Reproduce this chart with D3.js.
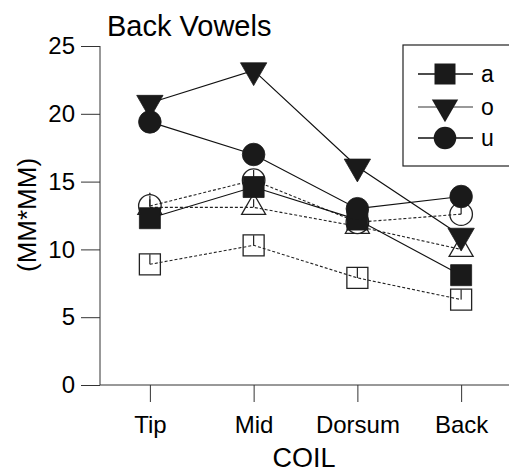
<!DOCTYPE html>
<html>
<head>
<meta charset="utf-8">
<script src="https://cdn.jsdelivr.net/npm/d3@7"></script>
<style>
  html, body { margin: 0; padding: 0; background: #fff; }
  svg { display: block; font-family: Arial, "Liberation Sans", Helvetica, sans-serif; }
</style>
</head>
<body>
<svg id="chart" width="509" height="473"></svg>
<script>
// ---- data ----
const categories = ["Tip", "Mid", "Dorsum", "Back"];
const yTicks = [0, 5, 10, 15, 20, 25];

// filled series (solid lines) – shown in legend
const aFilled = [12.3, 14.6, 12.2, 8.1];
const oFilled = [20.8, 23.2, 16.1, 11.0];
const uFilled = [19.4, 17.0, 13.0, 13.9];

// open series (dashed lines)
const aOpen = [8.9, 10.3, 7.9, 6.3];
const oOpen = [13.1, 13.1, 11.7, 10.0];
const uOpen = [13.2, 15.1, 12.0, 12.6];

// upper error bars of open series
const aOpenErr = [0.75, 0.75, 0.75, 0.75];
const oOpenErr = [0.6, 0.6, 0.6, 0.6];
const uOpenErr = [0.75, 0.75, 0.75, 0.75];

const legendLabels = ["a", "o", "u"];

// ---- setup ----
const svg = d3.select("#chart");
const W = 509, H = 473;
const x = d3.scalePoint().domain(categories).range([98, 513]).padding(0.5);
const y = d3.scaleLinear().domain([0, 25]).range([385, 46]);

const symSquare = d3.symbol().type(d3.symbolSquare).size(441);
const symCircle = d3.symbol().type(d3.symbolCircle).size(400);
const symTriUp = d3.symbol().type(d3.symbolTriangle).size(250);
const symTriDown = d3.symbol().type(d3.symbolTriangle).size(300);

const openSeries = [
  { vals: aOpen, err: aOpenErr, sym: symSquare, rot: 0 },
  { vals: oOpen, err: oOpenErr, sym: symTriUp, rot: 0 },
  { vals: uOpen, err: uOpenErr, sym: symCircle, rot: 0 }
];
const filledSeries = [
  { vals: aFilled, sym: symSquare, rot: 0 },
  { vals: oFilled, sym: symTriDown, rot: 180 },
  { vals: uFilled, sym: symCircle, rot: 0 }
];

const line = d3.line().x((d, i) => x(categories[i])).y(d => y(d));

// ---- axes ----
const axisColor = "#333";
const yAxis = svg.append("g").attr("transform", "translate(100,0)")
  .call(d3.axisLeft(y).tickValues(yTicks).tickSize(19).tickPadding(6).tickFormat(d3.format("d")));
yAxis.select(".domain").attr("d", `M0,${y(25)}V${y(0)}`).attr("stroke", axisColor);
yAxis.selectAll(".tick line").attr("stroke", axisColor);
yAxis.selectAll(".tick text").attr("font-size", 24).attr("fill", "#000").attr("font-family", "Arial, 'Liberation Sans', sans-serif");

const xAxis = svg.append("g").attr("transform", `translate(0,${y(0)})`)
  .call(d3.axisBottom(x).tickSize(17).tickPadding(14));
xAxis.select(".domain").attr("d", `M100,0H${W}`).attr("stroke", axisColor);
xAxis.selectAll(".tick line").attr("stroke", axisColor);
xAxis.selectAll(".tick text").attr("font-size", 24).attr("fill", "#000").attr("font-family", "Arial, 'Liberation Sans', sans-serif");

// ---- titles ----
svg.append("text").attr("x", 107).attr("y", 36).attr("font-size", 29).text("Back Vowels");
svg.append("text").attr("x", 304).attr("y", 467).attr("text-anchor", "middle").attr("font-size", 27).text("COIL");
svg.append("text").attr("transform", "translate(36,215) rotate(-90)").attr("text-anchor", "middle")
  .attr("font-size", 26).text("(MM*MM)");

// ---- open series ----
const gOpen = svg.append("g");
openSeries.forEach(s => {
  gOpen.append("g").selectAll("path").data(s.vals).join("path")
    .attr("d", s.sym)
    .attr("transform", (d, i) => `translate(${x(categories[i])},${y(d)}) rotate(${s.rot})`)
    .attr("fill", "#fff").attr("stroke", "#222").attr("stroke-width", 1.3);
});
openSeries.forEach(s => {
  gOpen.append("path").datum(s.vals).attr("d", line)
    .attr("fill", "none").attr("stroke", "#222").attr("stroke-width", 1.1).attr("stroke-dasharray", "3,2");
  gOpen.append("g").selectAll("line").data(s.vals).join("line")
    .attr("x1", (d, i) => x(categories[i])).attr("x2", (d, i) => x(categories[i]))
    .attr("y1", d => y(d)).attr("y2", (d, i) => y(d + s.err[i]))
    .attr("stroke", "#222").attr("stroke-width", 1.2);
});

// ---- filled series ----
const gFilled = svg.append("g");
filledSeries.forEach(s => {
  gFilled.append("path").datum(s.vals).attr("d", line)
    .attr("fill", "none").attr("stroke", "#111").attr("stroke-width", 1.2);
});
filledSeries.forEach(s => {
  gFilled.append("g").selectAll("path").data(s.vals).join("path")
    .attr("d", s.sym)
    .attr("transform", (d, i) => `translate(${x(categories[i])},${y(d)}) rotate(${s.rot})`)
    .attr("fill", "#1a1a1a").attr("stroke", "#1a1a1a").attr("stroke-width", 0.8);
});

// ---- legend ----
const lg = svg.append("g");
lg.append("rect").attr("x", 403).attr("y", 45).attr("width", 130).attr("height", 121)
  .attr("fill", "#fff").attr("stroke", "#222").attr("stroke-width", 1.2);
const legendYs = [74, 107, 138];
filledSeries.forEach((s, i) => {
  const ly = legendYs[i];
  lg.append("line").attr("x1", 418).attr("x2", 473).attr("y1", ly).attr("y2", ly)
    .attr("stroke", i === 1 ? "#777" : "#111").attr("stroke-width", 1.3);
  lg.append("path").attr("d", s.sym).attr("transform", `translate(445,${ly}) rotate(${s.rot})`)
    .attr("fill", "#1a1a1a");
  lg.append("text").attr("x", 481).attr("y", ly + 8).attr("font-size", 23).text(legendLabels[i]);
});
</script>
</body>
</html>
